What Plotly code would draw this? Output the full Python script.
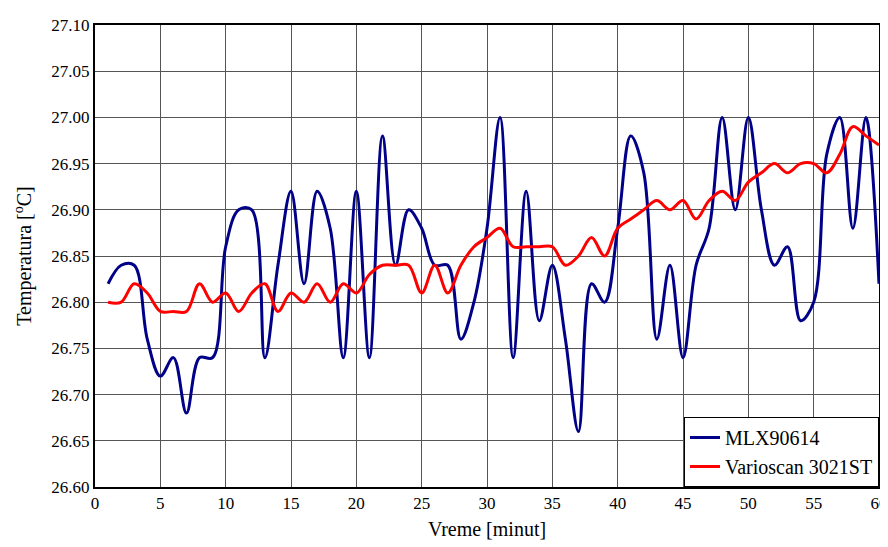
import plotly.graph_objects as go

minutes = list(range(1, 61))
mlx = [26.82, 26.84, 26.84, 26.76, 26.72, 26.74, 26.68, 26.74, 26.74, 26.86,
       26.90, 26.90, 26.74, 26.84, 26.92, 26.82, 26.92, 26.88, 26.74, 26.92,
       26.74, 26.98, 26.84, 26.90, 26.88, 26.84, 26.84, 26.76, 26.80, 26.88,
       27.00, 26.74, 26.92, 26.78, 26.84, 26.76, 26.66, 26.82, 26.80, 26.88,
       26.98, 26.94, 26.76, 26.84, 26.74, 26.84, 26.88, 27.00, 26.90, 27.00,
       26.90, 26.84, 26.86, 26.78, 26.80, 26.96, 27.00, 26.88, 27.00, 26.82]
vario = [26.80, 26.80, 26.82, 26.81, 26.79, 26.79, 26.79, 26.82, 26.80, 26.81,
         26.79, 26.81, 26.82, 26.79, 26.81, 26.80, 26.82, 26.80, 26.82, 26.81,
         26.83, 26.84, 26.84, 26.84, 26.81, 26.84, 26.81, 26.84, 26.86, 26.87,
         26.88, 26.86, 26.86, 26.86, 26.86, 26.84, 26.85, 26.87, 26.85, 26.88,
         26.89, 26.90, 26.91, 26.90, 26.91, 26.89, 26.91, 26.92, 26.91, 26.93,
         26.94, 26.95, 26.94, 26.95, 26.95, 26.94, 26.96, 26.99, 26.98, 26.97]

font_family = "Liberation Serif, Times New Roman, serif"

fig = go.Figure()
fig.add_trace(go.Scatter(x=minutes, y=mlx, mode="lines", name="MLX90614",
                         line=dict(color="#000088", width=3, shape="spline", smoothing=1)))
fig.add_trace(go.Scatter(x=minutes, y=vario, mode="lines", name="Varioscan 3021ST",
                         line=dict(color="#ff0000", width=3, shape="spline", smoothing=1)))

fig.update_layout(
    width=888, height=547,
    margin=dict(l=87, r=8, t=8, b=68),
    paper_bgcolor="white", plot_bgcolor="white",
    font=dict(family=font_family, size=17, color="black"),
    showlegend=True,
    legend=dict(x=1, y=0, xanchor="right", yanchor="bottom",
                bordercolor="black", borderwidth=1, bgcolor="white",
                font=dict(family=font_family, size=20), tracegroupgap=0),
    xaxis=dict(range=[0, 60], dtick=5, tick0=0, showgrid=True, gridcolor="#555555", gridwidth=1,
               showline=True, linecolor="black", linewidth=2, mirror=True, zeroline=False,
               ticks="", tickfont=dict(size=17),
               title=dict(text="Vreme [minut]", font=dict(size=20), standoff=10)),
    yaxis=dict(range=[26.60, 27.10], dtick=0.05, tick0=26.60, tickformat=".2f",
               showgrid=True, gridcolor="#555555", gridwidth=1,
               showline=True, linecolor="black", linewidth=2, mirror=True, zeroline=False,
               ticks="", tickfont=dict(size=17),
               title=dict(text="Temperatura [<sup>o</sup>C]", font=dict(size=20), standoff=14)),
)

fig.write_html("out.html")
